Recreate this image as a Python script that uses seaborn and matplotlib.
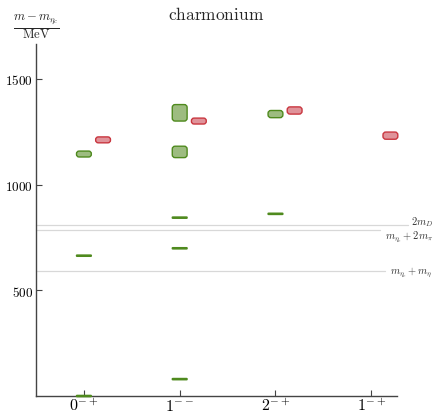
import matplotlib
matplotlib.use("Agg")
import matplotlib.pyplot as plt
from matplotlib.patches import FancyBboxPatch
import matplotlib.transforms as mtransforms
import seaborn as sns

# Channels on the x axis
channels = [r"$0^{-+}$", r"$1^{--}$", r"$2^{-+}$", r"$1^{-+}$"]

# Charmonium-like states: channel index, m - m_etac (MeV), half uncertainty (MeV)
green_channel = [0, 0, 0, 1, 1, 1, 1, 1, 2, 2]
green_mass = [0, 664, 1145, 80, 699, 844, 1155, 1340, 862, 1334]
green_err = [3, 3, 14, 3, 3, 3, 27, 39, 3, 17]

# Hybrid-like states
red_channel = [0, 1, 2, 3]
red_mass = [1212, 1301, 1351, 1232]
red_err = [14, 14, 17, 17]

# Thresholds (MeV above m_etac)
thr_names = [r"$2m_D$", r"$m_{\eta_c}+2m_\pi$", r"$m_{\eta_c}+m_\eta$"]
thr_mass = [811, 786, 590]
thr_label_width_px = [22, 50, 45]
thr_label_shift_px = [4, -6, 0]

sns.set_style("ticks")
plt.rcParams["mathtext.fontset"] = "cm"
plt.rcParams["font.family"] = ["DejaVu Serif"]

fig = plt.figure(figsize=(4.34, 4.14), dpi=100)
ax = fig.add_axes([0.083, 0.041, 0.832, 0.850])
ax.set_xlim(-0.5, 3.27)
ax.set_ylim(0, 1665)
sns.despine(ax=ax)
for s in ("left", "bottom"):
    ax.spines[s].set_color("#444444")
    ax.spines[s].set_linewidth(1.0)

fig.canvas.draw()
bb = ax.get_window_extent()
px_x = bb.width / (3.27 + 0.5)
px_y = bb.height / 1665.0
aspect = px_x / px_y

box_w = 0.155
corner = 0.03


def draw_state(x, m, e, face, edge):
    h = 2 * e
    rs = min(corner, 0.45 * h / aspect)
    p = FancyBboxPatch((x - box_w / 2, m - e), box_w, h,
                       boxstyle=f"round,pad=0,rounding_size={rs}",
                       mutation_aspect=aspect,
                       facecolor=face, edgecolor=edge, linewidth=1.0,
                       clip_on=False, zorder=3)
    ax.add_patch(p)


for c, m, e in zip(green_channel, green_mass, green_err):
    draw_state(c, m, e, "#9dbc80", "#4f8a1e")
for c, m, e in zip(red_channel, red_mass, red_err):
    draw_state(c + 0.2, m, e, "#e0939a", "#c9363f")

# Threshold lines running past the right end of the axes, labelled at the edge
trans = mtransforms.blended_transform_factory(ax.transAxes, ax.transData)
right_edge = 1.0 + (433 - 397) / bb.width
for name, m, wpx, dy in zip(thr_names, thr_mass, thr_label_width_px, thr_label_shift_px):
    x_end = right_edge - (wpx + 3) / bb.width
    ax.plot([0, x_end], [m, m], color="#d8d8d8", lw=0.9, transform=trans,
            clip_on=False, zorder=1)
    ax.annotate(name, xy=(right_edge, m), xycoords=trans,
                xytext=(0, dy), textcoords="offset pixels",
                ha="right", va="center", fontsize=7.5, color="#333333",
                zorder=2, annotation_clip=False)

ax.set_xticks(range(len(channels)))
ax.set_xticklabels(channels, fontsize=11.5)
ax.set_yticks([500, 1000, 1500])
ax.set_yticklabels([r"$\mathrm{500}$", r"$\mathrm{1000}$", r"$\mathrm{1500}$"], fontsize=9.5)
ax.tick_params(direction="in", length=4, width=0.8, colors="#444444", pad=2)
ax.tick_params(axis="x", pad=1)
for lab in ax.get_xticklabels() + ax.get_yticklabels():
    lab.set_color("black")

ax.set_title(r"$\mathrm{charmonium}$", fontsize=12.5, pad=18)
ax.text(0.0, 1.05, r"$\frac{m - m_{\eta_c}}{\mathrm{MeV}}$", transform=ax.transAxes,
        ha="center", va="center", fontsize=13)

fig.savefig("out.png", dpi=100)
